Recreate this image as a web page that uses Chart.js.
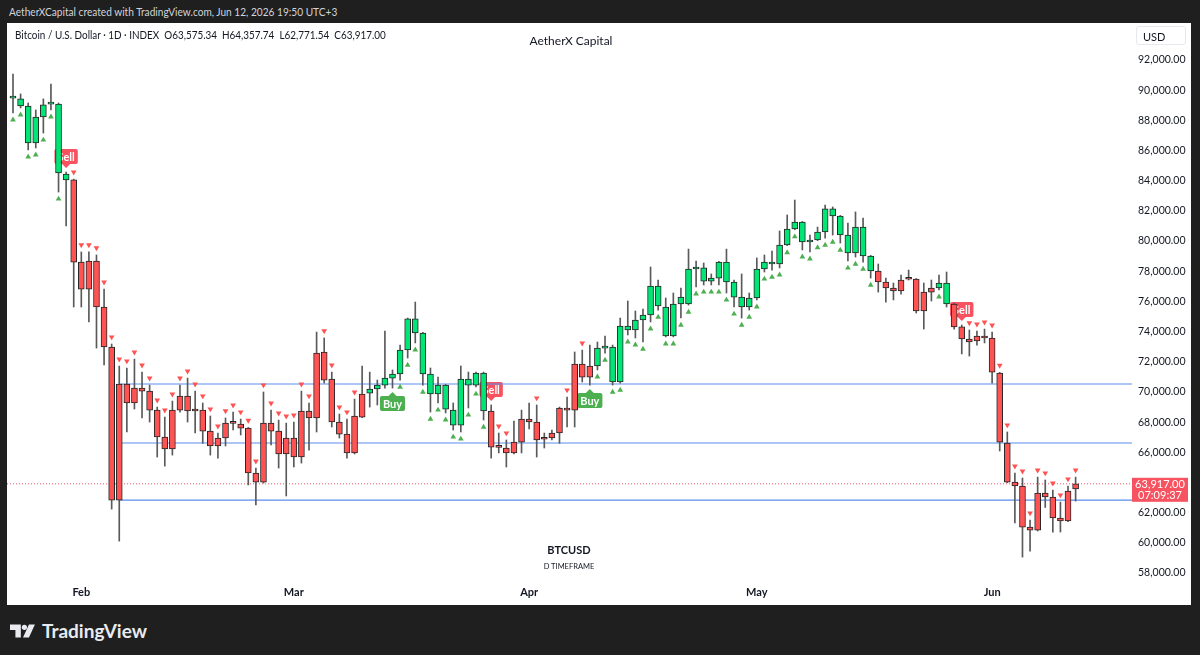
<!DOCTYPE html>
<html>
<head>
<meta charset="utf-8">
<script src="https://cdn.jsdelivr.net/npm/chart.js@4.4.1/dist/chart.umd.min.js"></script>
<style>
  html, body { margin: 0; padding: 0; width: 1200px; height: 655px; overflow: hidden; background: #1f1f1f; font-family: Lato, "Noto Sans", sans-serif; }
  #topbar { position: absolute; left: 9px; top: 5px; color: #d1d4dc; font-size: 11.5px; white-space: nowrap; transform: scaleX(0.88); transform-origin: left center; }
  #panel { position: absolute; left: 7px; top: 23px; width: 1184px; height: 582px; background: #fff; }
  #wrap { position: absolute; left: 0; top: 0; width: 1184px; height: 582px; }
  #sym { position: absolute; left: 8px; top: 5px; font-size: 11px; color: #131722; white-space: nowrap; transform: scaleX(0.9); transform-origin: left center; }
  #brand { position: absolute; left: 464px; width: 200px; top: 10px; text-align: center; font-size: 12px; color: #131722; }
  #usd { position: absolute; left: 1129px; top: 3px; width: 50px; height: 19px; border: 1px solid #e6e8ee; border-radius: 3px; font-size: 11px; color: #131722; line-height: 19px; padding-left: 6px; box-sizing: border-box; }
  #tick1 { position: absolute; left: 462px; width: 200px; top: 520px; text-align: center; font-size: 11px; font-weight: bold; color: #131722; }
  #tick2 { position: absolute; left: 462px; width: 200px; top: 539px; text-align: center; font-size: 7.5px; color: #131722; }
  #logo { position: absolute; left: 10px; top: 619px; display: flex; align-items: center; color: #e9ebf0; font-size: 19px; font-weight: bold; }
  #logo svg { margin-right: 6px; }
</style>
</head>
<body>
<div id="topbar">AetherXCapital created with TradingView.com, Jun 12, 2026 19:50 UTC+3</div>
<div id="panel">
  <div id="wrap"><canvas id="chart"></canvas></div>
  <div id="sym">Bitcoin / U.S. Dollar · 1D · INDEX&nbsp; O63,575.34&nbsp; H64,357.74&nbsp; L62,771.54&nbsp; C63,917.00</div>
  <div id="brand">AetherX Capital</div>
  <div id="usd">USD</div>
  <div id="tick1">BTCUSD</div>
  <div id="tick2">D TIMEFRAME</div>
</div>
<div id="logo">
  <svg width="26" height="14" viewBox="0 0 24 12"><path d="M0 0H10V12H5V5H0Z" fill="#e9ebf0"/><circle cx="13.3" cy="2.6" r="2.4" fill="#e9ebf0"/><path d="M17.5 0H23L17.5 12H12Z" fill="#e9ebf0"/></svg>
  <span>TradingView</span>
</div>
<script>
// ---- Data (daily candles, Jan 23 -> Jun 12) ----
const open = [
  89470, 88950, 86500, 86500, 88220, 89070, 84510, 84050, 84050, 78610,
  78680, 78680, 75630, 72980, 70530, 70530, 70260, 70260, 70060, 68800,
  67020, 68800, 69730, 69730, 68800, 68800, 67410, 66950, 67940, 67960,
  67880, 67610, 64630, 67940, 67940, 67410, 66950, 66950, 68740, 68740,
  72580, 72650, 70860, 68010, 67210, 68410, 69870, 69930, 70200, 70460,
  70920, 71190, 72780, 73910, 71190, 69870, 69870, 68870, 67810, 67810,
  70460, 70460, 68740, 68740, 66370, 66290, 66680, 68210, 68210, 68010,
  66900, 67280, 68940, 68940, 71850, 71850, 71720, 71720, 72910, 70660,
  70660, 74110, 74110, 74770, 75100, 75700, 73710, 73710, 75830, 75830,
  78150, 77350, 77350, 77550, 77290, 76290, 75630, 75630, 76230, 78150,
  78480, 78480, 79740, 80800, 79940, 79940, 80070, 80600, 81660, 80400,
  79210, 79210, 79010, 78020, 78020, 77290, 76890, 77420, 77500, 77490,
  76620, 76890, 76890, 75830, 75830, 74310, 73510, 73710, 73710, 73580,
  71260, 66620, 64030, 63770, 61050, 63300, 63300, 63040, 61650, 63440,
  63575.34
];
const high = [
  91070, 89750, 89150, 88690, 89420, 90410, 89150, 84580, 84100, 79280,
  79280, 79080, 76820, 73180, 71720, 71590, 72180, 71320, 70460, 69000,
  68340, 69400, 70460, 70920, 70060, 69270, 68410, 67280, 68280, 68670,
  68210, 67650, 64960, 70000, 68800, 68140, 67940, 68010, 70060, 69270,
  73970, 73580, 71320, 68540, 68210, 69530, 71720, 71320, 70790, 74040,
  71460, 73110, 74900, 75960, 73950, 71590, 70990, 70500, 69270, 71720,
  71320, 71320, 71320, 69140, 67280, 66820, 68080, 68800, 69270, 69140,
  67280, 67480, 69000, 69670, 72650, 72780, 73110, 73310, 73710, 73110,
  74900, 76030, 75370, 75500, 78280, 77420, 76230, 76560, 76890, 79470,
  78680, 78550, 77820, 78650, 79470, 77420, 77820, 76560, 78880, 79080,
  79340, 80670, 81730, 82720, 81300, 80400, 80930, 82390, 82260, 81700,
  81200, 81930, 81530, 79050, 78480, 77550, 77220, 77750, 78080, 77520,
  77220, 77420, 77750, 77950, 75870, 74440, 74110, 74040, 74170, 73970,
  71300, 67350, 64630, 64300, 61520, 64360, 64170, 63500, 62710, 63770,
  64357.74
];
const low = [
  88490, 88820, 86040, 86170, 87160, 88690, 83250, 81000, 75630, 75630,
  74640, 72910, 71790, 62240, 60120, 67350, 68870, 68280, 68010, 65690,
  65090, 65820, 68670, 68010, 67280, 66600, 65820, 65620, 66420, 67480,
  67150, 63840, 62510, 63970, 66490, 64960, 63110, 65030, 65290, 66150,
  67350, 70590, 67680, 66950, 65620, 65890, 68300, 69000, 69140, 70260,
  70260, 70790, 72250, 73250, 70460, 68670, 69270, 68610, 67480, 67350,
  68940, 70330, 68140, 65620, 65960, 65030, 65900, 65960, 67550, 65690,
  66290, 66820, 66600, 67680, 67680, 70660, 70460, 71460, 72580, 70460,
  70590, 73780, 73580, 73310, 74640, 75430, 73650, 73650, 74900, 75760,
  76960, 77090, 77090, 77090, 76560, 75630, 74900, 75430, 76100, 77950,
  78080, 78220, 79700, 80750, 79410, 79280, 80030, 80200, 80400, 79870,
  78680, 78940, 78610, 77550, 76620, 75960, 76100, 76490, 77420, 75230,
  74170, 76030, 76760, 75630, 74170, 72520, 72380, 73110, 73250, 70590,
  66090, 63990, 61320, 59060, 59460, 60790, 62350, 60720, 60720, 61400,
  62771.54
];
const close = [
  89500, 89420, 88950, 88220, 89020, 89100, 89080, 84440, 78610, 76820,
  76820, 75630, 72980, 62840, 62840, 69270, 69270, 70060, 68800, 67020,
  66220, 66220, 68800, 68740, 68740, 67410, 66420, 66420, 66950, 67920,
  67610, 64630, 64030, 64030, 67410, 65890, 65890, 65690, 65690, 68280,
  68280, 70790, 68010, 67210, 65960, 65960, 68340, 70200, 70460, 70920,
  71190, 72780, 74840, 74840, 73910, 71190, 70460, 70460, 68800, 70860,
  70860, 71260, 71260, 66350, 66330, 65960, 65960, 66680, 68010, 66820,
  66870, 66950, 67280, 68800, 68800, 70990, 70990, 72910, 72980, 72980,
  74370, 74370, 74770, 75100, 77020, 77020, 75630, 75830, 76290, 78150,
  78220, 78220, 77550, 78610, 78610, 77290, 76290, 76230, 78150, 78610,
  78610, 79740, 80800, 81260, 81260, 80070, 80600, 82130, 82130, 81660,
  80400, 80930, 80930, 79010, 77290, 76890, 76690, 76690, 77470, 75370,
  75370, 76620, 77220, 77220, 74310, 73510, 73310, 73380, 73580, 71320,
  66680, 64030, 63770, 61050, 60850, 60850, 63040, 61650, 61450, 61450,
  63917.00
];
// trend colour of each candle (G = up trend, R = down trend)
const trend = ('GGGGGGGG RRRRRRRRRR RRRRRRRRRR RRRRRRRRRR RRRRRRRRR GGGGGGGGGG GGGGGG ' +
  'RRRRRRRRRR RRRR GGGGGGGGGG GGGGGGGGGG GGGGGGGGGG GGGGGGG RRRRRRRR GG RRRRRRRRRR RRRRRRR')
  .replace(/ /g, '').split('');
// small signal triangles (u = below low, d = above high, - = none)
const marks = ('uuuuuuu - dddddddddd dddddddddd dddddddddd dd - ddddd ----- uuuuuuuuuu uu - dd --- d --- d - d - ' +
  'uuuuuuuuuu uuuuuuuuuu uuuuuuuuuu uuuuuuu -------- u - - - dddddddddd ddddd')
  .replace(/ /g, '').split('');
const sellAt = [7, 63, 125];
const buyAt = [50, 76];
const levels = [70530, 66620, 62840];
const levelStart = 14;
const lastPrice = 63917.00;
const lastCountdown = '07:09:37';
const monthTicks = [9, 37, 68, 98, 129];
const monthNames = ['Feb', 'Mar', 'Apr', 'May', 'Jun'];
const yTicks = [58000, 60000, 62000, 64000, 66000, 68000, 70000, 72000, 74000, 76000,
  78000, 80000, 82000, 84000, 86000, 88000, 90000, 92000, 94000];

// ---- styles ----
const UP = '#00e676', DOWN = '#ff5252';
const MARK_UP = '#4caf50', MARK_DOWN = '#ff5252';
const X_MIN = -0.79, X_MAX = 147.43;
const Y_MIN = 57410, Y_MAX = 94450;
const MARK_GAP = 460;

const n = close.length;
const bodies = [], wicks = [], upMarks = [], downMarks = [];
for (let i = 0; i < n; i++) {
  bodies.push({x: i, y: [Math.min(open[i], close[i]), Math.max(open[i], close[i])]});
  wicks.push({x: i, y: [low[i], high[i]]});
  if (marks[i] === 'u') upMarks.push({x: i, y: low[i] - MARK_GAP});
  if (marks[i] === 'd') downMarks.push({x: i, y: high[i] + MARK_GAP});
}
const candleColor = ctx => trend[ctx.dataIndex] === 'G' ? UP : DOWN;

const levelSets = levels.map(v => ({
  type: 'line',
  data: [{x: levelStart, y: v}, {x: X_MAX, y: v}],
  borderColor: '#5b8def', borderWidth: 1.2, pointRadius: 0, order: 10
}));

// Buy / Sell tags, drawn under the candles
const signalLabels = {
  id: 'signalLabels',
  beforeDatasetsDraw(chart) {
    const {ctx, scales: {x, y}} = chart;
    ctx.save();
    ctx.font = 'bold 11px Lato, "Noto Sans", sans-serif';
    ctx.textAlign = 'center';
    ctx.textBaseline = 'middle';
    const tag = (i, text, color, down) => {
      const px = x.getPixelForValue(i);
      const w = ctx.measureText(text).width + 6, h = 15;
      let tip, top;
      if (down) { tip = y.getPixelForValue(high[i]) - 4; top = tip - 4 - h; }
      else { tip = y.getPixelForValue(low[i]) + 4; top = tip + 4; }
      ctx.fillStyle = color;
      ctx.beginPath();
      ctx.roundRect(px - w / 2, top, w, h, 2);
      ctx.fill();
      ctx.beginPath();
      if (down) { ctx.moveTo(px - 4, top + h); ctx.lineTo(px + 4, top + h); ctx.lineTo(px, tip); }
      else { ctx.moveTo(px - 4, top); ctx.lineTo(px + 4, top); ctx.lineTo(px, tip); }
      ctx.fill();
      ctx.fillStyle = '#fff';
      ctx.fillText(text, px, top + h / 2 + 0.5);
    };
    sellAt.forEach(i => tag(i, 'Sell', '#f7525f', true));
    buyAt.forEach(i => tag(i, 'Buy', '#4caf50', false));
    ctx.restore();
  }
};

// last price tag on the price scale
const priceTag = {
  id: 'priceTag',
  afterDraw(chart) {
    const {ctx, scales: {y}} = chart;
    const py = y.getPixelForValue(lastPrice);
    ctx.save();
    ctx.fillStyle = '#f7525f';
    ctx.fillRect(y.left, py - 6, 56, 24);
    ctx.fillStyle = '#fff';
    ctx.font = '11px Lato, "Noto Sans", sans-serif';
    ctx.textAlign = 'center';
    ctx.textBaseline = 'middle';
    ctx.fillText(lastPrice.toLocaleString('en-US', {minimumFractionDigits: 2}), y.left + 28, py + 1);
    ctx.fillText(lastCountdown, y.left + 28, py + 12);
    ctx.restore();
  }
};

Chart.defaults.font.family = 'Lato, "Noto Sans", sans-serif';
Chart.defaults.color = '#131722';

new Chart(document.getElementById('chart'), {
  type: 'bar',
  data: {
    datasets: [
      ...levelSets,
      {
        type: 'line',
        data: [{x: X_MIN, y: lastPrice}, {x: X_MAX, y: lastPrice}],
        borderColor: '#f7525f', borderWidth: 1, borderDash: [1, 2], pointRadius: 0, order: 9
      },
      {
        data: wicks, backgroundColor: '#5a5a5a', barThickness: 1, grouped: false, order: 5
      },
      {
        data: bodies, backgroundColor: candleColor, borderColor: '#262626', borderWidth: 1,
        borderSkipped: false, barThickness: 6, minBarLength: 2, grouped: false, order: 4
      },
      {
        type: 'scatter', data: upMarks, pointStyle: 'triangle', radius: 3.3,
        backgroundColor: MARK_UP, borderWidth: 0, order: 3
      },
      {
        type: 'scatter', data: downMarks, pointStyle: 'triangle', rotation: 180, radius: 3.3,
        backgroundColor: MARK_DOWN, borderWidth: 0, order: 3
      }
    ]
  },
  options: {
    responsive: true,
    maintainAspectRatio: false,
    animation: false,
    layout: {padding: 0, autoPadding: false},
    plugins: {legend: {display: false}, tooltip: {enabled: false}},
    scales: {
      x: {
        type: 'linear', min: X_MIN, max: X_MAX, offset: false,
        grid: {display: false, offset: false, drawTicks: false},
        border: {display: false},
        afterBuildTicks: s => { s.ticks = monthTicks.map(v => ({value: v})); },
        afterFit: s => { s.height = 23; s.paddingLeft = 0; s.paddingRight = 0; },
        ticks: {
          autoSkip: false, maxRotation: 0, padding: 4,
          font: {size: 11, weight: 'bold'},
          callback: v => monthNames[monthTicks.indexOf(v)]
        }
      },
      y: {
        position: 'right', min: Y_MIN, max: Y_MAX,
        grid: {display: false, drawTicks: false},
        border: {display: false},
        afterBuildTicks: s => { s.ticks = yTicks.map(v => ({value: v})); },
        afterFit: s => { s.width = 59; s.paddingTop = 0; s.paddingBottom = 0; },
        ticks: {
          padding: 6, crossAlign: 'near', autoSkip: false,
          font: {size: 10.5},
          callback: v => v > 92000 ? '' : v.toLocaleString('en-US', {minimumFractionDigits: 2})
        }
      }
    }
  },
  plugins: [signalLabels, priceTag]
});
</script>
</body>
</html>
